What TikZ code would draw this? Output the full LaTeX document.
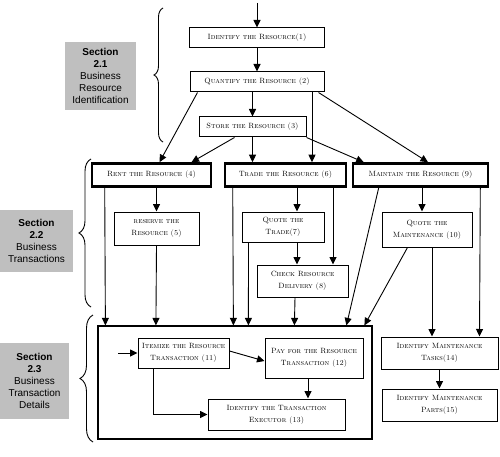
\documentclass[tikz,border=0pt]{standalone}
\usepackage{fontspec}
\newfontfamily\secfont{Liberation Sans}
\usepackage{tikz}
\usetikzlibrary{positioning, calc, arrows.meta, decorations.pathreplacing}

\tikzset{
  box/.style={draw, line width=1pt, align=center, inner sep=1pt,
    font=\fontsize{7.6}{12}\selectfont\scshape},
  keybox/.style={box, line width=2.6pt},
  secbox/.style={fill=gray!50, align=center, inner sep=1pt,
    font=\fontsize{10}{12}\selectfont\secfont},
  flow/.style={-{Triangle[length=7.5pt,width=7pt]}, line width=0.9pt},
  sbrace/.style={decorate, line width=0.9pt}
}

\begin{document}
\begin{tikzpicture}[x=1pt,y=-1pt]
      \useasboundingbox (0,0) rectangle (500,457);

      % sections
      \node[secbox, minimum width=71, minimum height=68] (sec_1) at (100.5,76)
        {\textbf{Section}\\\textbf{2.1}\\Business\\Resource\\Identification};
      \node[secbox, minimum width=73, minimum height=62] (sec_2) at (36.5,241)
        {\textbf{Section}\\\textbf{2.2}\\Business\\Transactions};
      \node[secbox, minimum width=69, minimum height=76] (sec_3) at (34.5,381)
        {\textbf{Section}\\\textbf{2.3}\\Business\\Transaction\\Details};

      \draw[sbrace, decoration={brace, amplitude=9pt}] (163,142) -- (163,8);
      \draw[sbrace, decoration={brace, amplitude=12pt}] (91,307) -- (91,159);
      \draw[sbrace, decoration={brace, amplitude=13pt}] (93,442) -- (93,315);

      % resource identification
      \node[box, minimum width=135, minimum height=20] (res_1) at (257,38)
        {Identify the Resource(1)};
      \node[box, minimum width=134, minimum height=20] (res_2) at (257,82)
        {Quantify the Resource (2)};
      \node[box, minimum width=107, minimum height=20] (res_3) at (252.5,127)
        {Store the Resource (3)};

      % transactions
      \node[keybox, minimum width=119, minimum height=23] (res_4) at (151.5,175)
        {Rent the Resource (4)};
      \node[keybox, minimum width=121, minimum height=23] (res_6) at (285.5,175)
        {Trade the Resource (6)};
      \node[keybox, minimum width=135, minimum height=23] (res_9) at (420.5,175)
        {Maintain the Resource (9)};
      \node[box, minimum width=85, minimum height=33] (res_5) at (156.5,228.5)
        {reserve the\\Resource (5)};
      \node[box, minimum width=82, minimum height=30] (res_7) at (283,227)
        {Quote the\\Trade(7)};
      \node[box, minimum width=91, minimum height=32] (res_8) at (302.5,281)
        {Check Resource\\Delivery (8)};
      \node[box, minimum width=90, minimum height=35] (res_10) at (427,229.5)
        {Quote the\\Maintenance (10)};

      % transaction details
      \node[draw, line width=1.2pt, minimum width=274, minimum height=113] (detail) at (235,382.5) {};
      \node[box, minimum width=91, minimum height=30] (res_11) at (183.5,353)
        {Itemize the Resource\\Transaction (11)};
      \node[box, minimum width=98, minimum height=40] (res_12) at (314,358)
        {Pay for the Resource\\Transaction (12)};
      \node[box, minimum width=137, minimum height=31] (res_13) at (276.5,414.5)
        {Identify the Transaction\\Executor (13)};
      \node[box, minimum width=117, minimum height=32] (res_14) at (439.5,353)
        {Identify Maintenance\\Tasks(14)};
      \node[box, minimum width=115, minimum height=32] (res_15) at (439.5,405)
        {Identify Maintenance\\Parts(15)};

      \coordinate (start) at (257,3);
      \coordinate (item_in) at (118,353);

      \draw[flow] (start) -- (res_1.north);
      \draw[flow] (res_1.south) -- (res_2.north);
      \draw[flow] (res_3.north |- res_2.south) -- (res_3.north);
      \draw[flow] ([xshift=8]res_2.south west) -- ([xshift=8]res_4.north);
      \draw[flow] ([xshift=55]res_2.south) -- ([xshift=26.5]res_6.north);
      \draw[flow] ([xshift=-6]res_2.south east) -- ([xshift=7.5]res_9.north);

      \draw[flow] ([xshift=36]res_3.south west) -- ([xshift=40]res_4.north);
      \draw[flow] (res_3.south) -- (res_3.south |- res_6.north);
      \draw[flow] (res_3.south east) -- ([xshift=12]res_9.north west);

      \draw[flow] (res_5.north |- res_4.south) -- (res_5.north);
      \draw[flow] ([xshift=11.5]res_6.south) -- ([xshift=14]res_7.north);
      \draw[flow] ([xshift=47.5]res_6.south) -- ([xshift=30.5]res_8.north);
      \draw[flow] ([xshift=14]res_7.south) -- ([xshift=-5.5]res_8.north);
      \draw[flow] ([xshift=1.5]res_9.south) -- ([xshift=-5]res_10.north);

      \draw[flow] ([xshift=14]res_4.south west) -- ([xshift=8]detail.north west);
      \draw[flow] (res_5.south) -- ([xshift=58.5]detail.north west);
      \draw[flow] ([xshift=9]res_6.south west) -- ([xshift=136]detail.north west);
      \draw[flow] ([xshift=7]res_7.south west) -- ([xshift=151]detail.north west);
      \draw[flow] ([xshift=-7.5]res_8.south) -- ([xshift=197]detail.north west);
      \draw[flow] ([xshift=27]res_9.south west) -- ([xshift=249]detail.north west);
      \draw[flow] ([xshift=26]res_10.south west) -- ([xshift=267]detail.north west);

      \draw[flow] ([xshift=5]res_10.south) -- ([xshift=-7.5]res_14.north);
      \draw[flow] ([xshift=-9]res_9.south east) -- ([xshift=-19]res_14.north east);
      \draw[flow] (res_14.south) -- (res_15.north);

      \draw[flow] (item_in) -- (res_11.west);
      \draw[flow] ([yshift=2]res_11.east) -- ([yshift=-3]res_12.west);
      \draw[flow] ([xshift=-6]res_12.south) -- ([xshift=31.5]res_13.north);
      \draw[flow] ([xshift=-30.5]res_11.south) |- (res_13.west);
\end{tikzpicture}
\end{document}
